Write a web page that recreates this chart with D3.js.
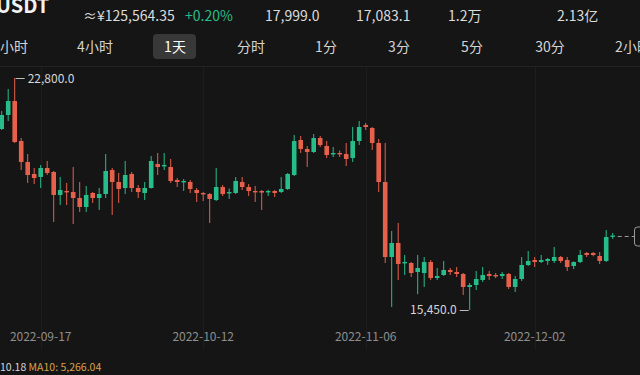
<!DOCTYPE html>
<html lang="zh">
<head>
    <meta charset="UTF-8">
    <title>USDT 1天 K线</title>
    <script src="https://d3js.org/d3.v7.min.js"></script>
    <style>
        html, body {
            margin: 0;
            padding: 0;
            background: #151515;
            overflow: hidden;
        }
        text {
            font-family: "Noto Sans CJK SC", "Noto Sans", sans-serif;
        }
        .head { fill: #dcdcdc; font-size: 14px; }
        .tab { fill: #d4d4d4; font-size: 14px; text-anchor: middle; }
        .date { fill: #8e8e8e; font-size: 12px; text-anchor: middle; }
        .mark { fill: #d6d6d6; font-size: 12px; }
    </style>
</head>
<body>
<div id="chart"></div>
<script>
    const width = 640;
    const height = 375;

    // header numbers
    const headerTexts = ["≈¥125,564.35", "+0.20%", "17,999.0", "17,083.1", "1.2万", "2.13亿"];
    const headerX = [83, 185, 265, 356, 448, 557];

    // period tabs
    const tabs = ["1小时", "4小时", "1天", "分时", "1分", "3分", "5分", "30分", "2小时"];
    const tabX = [10, 95, 175, 251, 326, 399, 472, 550, 633];
    const activeTab = "1天";

    // date ticks shown under the chart
    const tickDates = ["2022-09-17", "2022-10-12", "2022-11-06", "2022-12-02"];

    // daily candles, 2022-09-11 .. 2022-12-14
    const dates = d3.utcDay.range(new Date(Date.UTC(2022, 8, 11)), new Date(Date.UTC(2022, 11, 15)))
        .map(d3.utcFormat("%Y-%m-%d"));
    const opens = [21184, 21628, 22071, 20804, 20139, 19759, 19664, 19949, 19822, 19094,
        19220, 19188, 18998, 18713, 19157, 18998, 19125, 19885, 19505, 19315,
        19759, 19315, 19157, 19315, 20076, 20012, 19980, 19569, 19505, 19505,
        19252, 19157, 19125, 18935, 19347, 19157, 19157, 19505, 19347, 19220,
        19220, 19188, 19220, 19188, 19284, 19727, 20836, 20551, 20456, 20899,
        20646, 20392, 20424, 20392, 20266, 20804, 21311, 21216, 20741, 19505,
        17129, 17573, 16939, 16939, 16654, 16622, 16971, 16464, 16559, 16717,
        16654, 16591, 16179, 16242, 16401, 16591, 16559, 16527, 16591, 16179,
        16432, 16876, 17034, 16971, 17003, 17003, 17129, 17034, 16844, 16971,
        17256, 17256, 17161, 17003, 17780];
    const highs = [21755, 22452, 22800, 20899, 20392, 19949, 20044, 20171, 19854, 19664,
        19474, 19980, 19505, 19379, 19188, 19315, 20392, 19949, 19790, 20171,
        19822, 19410, 19505, 20329, 20424, 20424, 20234, 19632, 19600, 19569,
        19315, 19188, 19157, 19949, 19410, 19300, 19664, 19664, 19442, 19379,
        19250, 19260, 19250, 19664, 19790, 20994, 20963, 20646, 21026, 20963,
        20804, 20614, 20500, 20741, 21248, 21438, 21374, 21248, 20868, 20741,
        17953, 18206, 17193, 16971, 17193, 17129, 17034, 16781, 17003, 16780,
        16812, 16622, 16305, 16686, 16812, 16686, 16622, 16650, 16622, 16527,
        17129, 17319, 17129, 17193, 17098, 17446, 17161, 17129, 16990, 17351,
        17288, 17288, 17288, 17985, 17890];
    const lows = [21153, 21438, 20741, 19885, 19474, 19442, 19315, 19727, 18238, 18777,
        18777, 18175, 18555, 18555, 18840, 18618, 18998, 18460, 18840, 19125,
        19188, 18998, 18935, 19300, 19727, 19885, 19474, 19347, 19220, 19157,
        18872, 18903, 18206, 18903, 19062, 18967, 19125, 19252, 19062, 18872,
        18618, 19062, 19030, 19157, 19252, 19695, 20424, 19980, 20424, 20614,
        20266, 20297, 20297, 20012, 20139, 20677, 21153, 20519, 19188, 16939,
        15545, 16401, 16559, 16496, 15950, 16179, 16401, 16401, 16527, 16560,
        16496, 15925, 15450, 16084, 16337, 16401, 16460, 16432, 16115, 16020,
        16369, 16844, 16812, 16939, 16880, 16939, 16939, 16686, 16749, 16939,
        17130, 17150, 16908, 16971, 17700];
    const closes = [21628, 22071, 20772, 20139, 19727, 19632, 19949, 19790, 19094, 19252,
        19188, 18998, 18713, 19094, 18998, 19125, 19854, 19505, 19284, 19727,
        19315, 19188, 19315, 20171, 19980, 20044, 19537, 19505, 19537, 19284,
        19157, 19125, 18967, 19347, 19125, 19188, 19537, 19347, 19220, 19188,
        19170, 19220, 19157, 19284, 19759, 20804, 20551, 20456, 20899, 20677,
        20361, 20424, 20392, 20234, 20804, 21248, 21248, 20741, 19505, 17129,
        17573, 16908, 16971, 16622, 16781, 16971, 16464, 16527, 16717, 16654,
        16591, 16179, 16242, 16432, 16559, 16527, 16527, 16591, 16179, 16432,
        16876, 17003, 16971, 17034, 17066, 17129, 17003, 16812, 16971, 17193,
        17193, 17193, 17003, 17763, 17810];

    const candles = dates.map((d, i) => ({
        date: d, open: opens[i], high: highs[i], low: lows[i], close: closes[i]
    }));

    const maLabel = "10.18";
    const maText = "MA10: 5,266.04";

    const green = "#27bd8b";
    const red = "#e6604c";

    const x = d3.scalePoint().domain(dates).range([1.7, 612.7]);
    const y = d3.scaleLinear().domain([15450, 22800]).range([310, 78]);

    const svg = d3.select("#chart").append("svg")
        .attr("width", width).attr("height", height);

    svg.append("rect").attr("width", width).attr("height", height).attr("fill", "#151515");

    drawHeader(svg);
    drawTabs(svg);
    drawGrid(svg);
    drawCandles(svg.append("g").attr("class", "candles"), candles);
    drawMarks(svg);
    drawFooter(svg);

    function drawHeader(g) {
        g.append("text")
            .attr("x", -4).attr("y", 13)
            .attr("fill", "#f2f2f2")
            .attr("font-size", "20px")
            .attr("font-weight", "bold")
            .text("USDT");

        g.selectAll("text.head")
            .data(headerTexts)
            .enter()
            .append("text")
            .attr("class", "head")
            .attr("x", (d, i) => headerX[i])
            .attr("y", 21)
            .style("fill", d => d.startsWith("+") ? green : null)
            .text(d => d);
    }

    function drawTabs(g) {
        g.append("rect")
            .attr("x", 153).attr("y", 34)
            .attr("width", 43).attr("height", 25)
            .attr("rx", 4)
            .attr("fill", "#383838");

        g.selectAll("text.tab")
            .data(tabs)
            .enter()
            .append("text")
            .attr("class", "tab")
            .attr("x", (d, i) => tabX[i])
            .attr("y", 52)
            .style("fill", d => d === activeTab ? "#ffffff" : null)
            .text(d => d);

        g.append("line")
            .attr("x1", 0).attr("x2", width)
            .attr("y1", 66.5).attr("y2", 66.5)
            .attr("stroke", "#222")
            .attr("stroke-width", 1);
    }

    function drawGrid(g) {
        g.append("g")
            .selectAll("line")
            .data(tickDates)
            .enter()
            .append("line")
            .attr("x1", d => Math.round(x(d)) + 0.5)
            .attr("x2", d => Math.round(x(d)) + 0.5)
            .attr("y1", 67).attr("y2", 350)
            .attr("stroke", "#1d1d1d");

        g.append("g")
            .selectAll("text")
            .data(tickDates)
            .enter()
            .append("text")
            .attr("class", "date")
            .attr("x", d => x(d))
            .attr("y", 341)
            .text(d => d);
    }

    function drawCandles(g, data) {
        const bw = 4.6;
        const c = g.selectAll("g")
            .data(data)
            .enter()
            .append("g")
            .attr("fill", d => d.close >= d.open ? green : red)
            .attr("stroke", d => d.close >= d.open ? green : red);

        c.append("line")
            .attr("x1", d => x(d.date)).attr("x2", d => x(d.date))
            .attr("y1", d => y(d.high)).attr("y2", d => y(d.low))
            .attr("stroke-width", 1);

        c.append("rect")
            .attr("x", d => x(d.date) - bw / 2)
            .attr("width", bw)
            .attr("y", d => y(Math.max(d.open, d.close)))
            .attr("height", d => Math.max(1.4, Math.abs(y(d.open) - y(d.close))))
            .attr("stroke", "none");
    }

    function drawMarks(g) {
        const hi = candles.reduce((a, b) => b.high > a.high ? b : a);
        const lo = candles.reduce((a, b) => b.low < a.low ? b : a);
        const fmt = d3.format(",.1f");

        g.append("line")
            .attr("x1", x(hi.date) + 1).attr("x2", x(hi.date) + 10)
            .attr("y1", y(hi.high) + 0.5).attr("y2", y(hi.high) + 0.5)
            .attr("stroke", "#bdbdbd");
        g.append("text")
            .attr("class", "mark")
            .attr("x", x(hi.date) + 13)
            .attr("y", y(hi.high) + 5)
            .text(fmt(hi.high));

        g.append("line")
            .attr("x1", x(lo.date) - 1).attr("x2", x(lo.date) - 10)
            .attr("y1", y(lo.low) + 0.5).attr("y2", y(lo.low) + 0.5)
            .attr("stroke", "#bdbdbd");
        g.append("text")
            .attr("class", "mark")
            .attr("x", x(lo.date) - 13)
            .attr("y", y(lo.low) + 4)
            .attr("text-anchor", "end")
            .text(fmt(lo.low));

        // last price line
        const last = candles[candles.length - 1];
        const ly = Math.round(y(last.close)) + 0.5;
        g.append("line")
            .attr("x1", x(last.date) + 5).attr("x2", 634)
            .attr("y1", ly).attr("y2", ly)
            .attr("stroke", "#9a9a9a")
            .attr("stroke-dasharray", "4,3");
        g.append("rect")
            .attr("x", 634.5).attr("y", ly - 9.5)
            .attr("width", 40).attr("height", 19)
            .attr("rx", 3)
            .attr("fill", "#151515")
            .attr("stroke", "#9a9a9a");
    }

    function drawFooter(g) {
        const t = g.append("text")
            .attr("x", 0).attr("y", 371)
            .attr("font-size", "10.5px");
        t.append("tspan").attr("fill", "#d6d6d6").text(maLabel + " ");
        t.append("tspan").attr("fill", "#d9a24a").text(maText);
    }
</script>
</body>
</html>
